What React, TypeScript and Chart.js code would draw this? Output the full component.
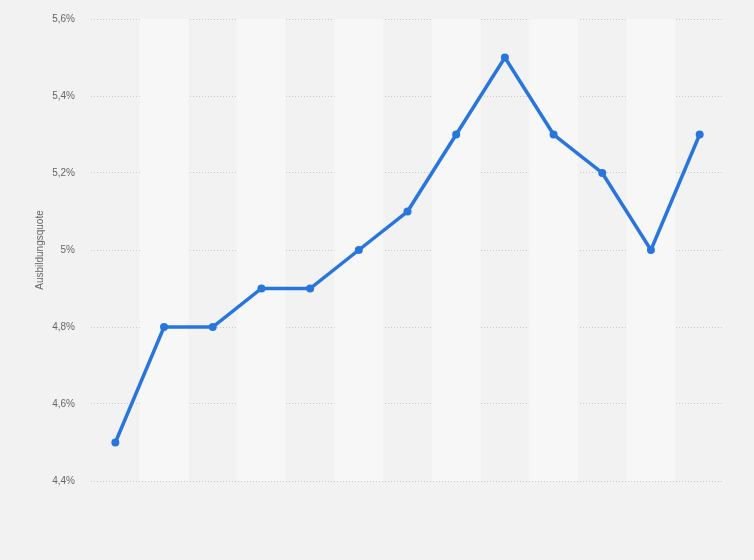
import { useEffect, useRef } from "react";
import { Chart, registerables, type ChartConfiguration, type Plugin } from "chart.js";

Chart.register(...registerables);

const YEARS = ["1", "2", "3", "4", "5", "6", "7", "8", "9", "10", "11", "12", "13"];
const QUOTE = [4.5, 4.8, 4.8, 4.9, 4.9, 5.0, 5.1, 5.3, 5.5, 5.3, 5.2, 5.0, 5.3];
const Y_MIN = 4.4;
const Y_MAX = 5.6;
const Y_STEP = 0.2;

const BG = "#f2f2f2";
const BAND = "#f7f7f7";
const LINE = "#2876dd";

// alternating column bands behind the line
const bands: Plugin<"line"> = {
  id: "bands",
  beforeDatasetsDraw(chart) {
    const { ctx, chartArea, scales } = chart;
    const x = scales.x;
    const w = (chartArea.right - chartArea.left) / YEARS.length;
    ctx.save();
    ctx.fillStyle = BAND;
    YEARS.forEach((_, i) => {
      if (i % 2 === 1) {
        const cx = x.getPixelForValue(i);
        ctx.fillRect(cx - w / 2, chartArea.top, w, chartArea.bottom - chartArea.top);
      }
    });
    ctx.restore();
  },
};

export default function App() {
  const ref = useRef<HTMLCanvasElement>(null);

  useEffect(() => {
    document.body.style.margin = "0";
    document.body.style.background = BG;
    if (!ref.current) return;
    const chart = new Chart(ref.current, {
      type: "line",
      data: {
        labels: YEARS,
        datasets: [
          {
            data: QUOTE,
            borderColor: LINE,
            backgroundColor: LINE,
            borderWidth: 3.5,
            pointRadius: 4,
            pointBackgroundColor: LINE,
            pointBorderWidth: 0,
            tension: 0,
          },
        ],
      },
      options: {
        responsive: false,
        animation: false,
        layout: { padding: { top: 19, right: 30, bottom: 79, left: 0 } },
        plugins: { legend: { display: false }, tooltip: { enabled: false } },
        scales: {
          x: {
            display: false,
            offset: true,
          },
          y: {
            min: Y_MIN,
            max: Y_MAX,
            afterFit: (s) => {
              s.width = 91;
            },
            border: { display: false, dash: [1, 2] },
            grid: {
              color: "#c8c8c8",
              lineWidth: 1,
              drawTicks: true,
              tickLength: 14,
              tickColor: "transparent",
            },
            ticks: {
              stepSize: Y_STEP,
              padding: 2,
              color: "#666666",
              font: { family: "'Liberation Sans', Arial, sans-serif", size: 10 },
              callback: (v) => String(parseFloat(Number(v).toFixed(1))).replace(".", ",") + "%",
            },
            title: {
              display: true,
              text: "Ausbildungsquote",
              color: "#666666",
              font: { family: "'Liberation Sans', Arial, sans-serif", size: 10 },
              padding: { top: 34, bottom: 0 },
            },
          },
        },
      },
      plugins: [bands],
    } as ChartConfiguration<"line">);
    return () => chart.destroy();
  }, []);

  return (
    <div style={{ width: 754, height: 560, background: BG }}>
      <canvas ref={ref} width={754} height={560} />
    </div>
  );
}
